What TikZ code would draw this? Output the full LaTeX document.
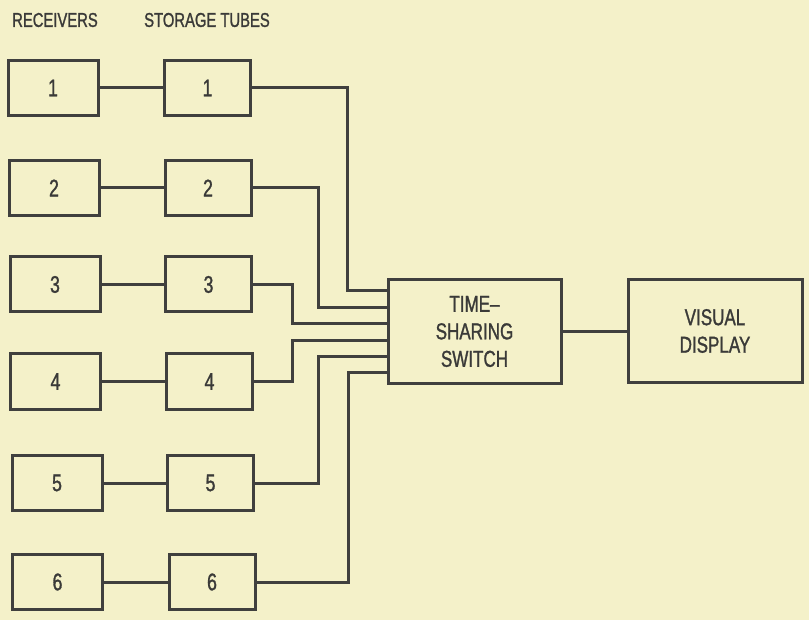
\documentclass[tikz,border=0pt]{standalone}
\usepackage{fontspec}
\setmainfont{Liberation Sans}[FakeStretch=0.74,FakeBold=1.2]
\definecolor{paper}{RGB}{244,241,201}
\definecolor{ink}{RGB}{64,64,62}
\definecolor{txt}{RGB}{58,58,56}
\begin{document}
\begin{tikzpicture}[x=1pt,y=-1pt,
  box/.style={draw=ink,line width=3pt,fill=none,inner sep=0pt,text=txt,font=\fontsize{24}{27}\selectfont},
  rbox/.style={box,minimum width=90pt,minimum height=55pt},
  sbox/.style={box,minimum width=86pt,minimum height=55pt},
  bigbox/.style={box,minimum width=173pt,minimum height=104pt,align=center,font=\fontsize{23}{27.5}\selectfont},
  wire/.style={draw=ink,line width=3pt},
  head/.style={text=txt,font=\fontsize{20}{22}\selectfont,inner sep=0pt}]
\fill[paper] (0,0) rectangle (809,620);
\useasboundingbox (0,0) rectangle (809,620);
\node[head] (hr) at (55,20) {RECEIVERS};
\node[head] (hs) at (207,20) {STORAGE TUBES};
\node[rbox] (r1) at (53,88) {1};
\node[rbox] (r2) at (54,188) {2};
\node[rbox] (r3) at (55,284.5) {3};
\node[rbox] (r4) at (55.5,381.5) {4};
\node[rbox] (r5) at (57,483) {5};
\node[rbox] (r6) at (57.5,582) {6};
\node[sbox] (s1) at (207.5,88) {1};
\node[sbox] (s2) at (208,188) {2};
\node[sbox] (s3) at (208.5,284.5) {3};
\node[sbox] (s4) at (209.5,381.5) {4};
\node[sbox] (s5) at (210.5,483) {5};
\node[sbox] (s6) at (212,582) {6};
\node[bigbox] (sw) at (474.5,331.5) {TIME--\\SHARING\\SWITCH};
\node[bigbox,minimum width=174pt,minimum height=103pt] (vd) at (715,331) {VISUAL\\DISPLAY};
\foreach \i in {1,...,6}{\draw[wire] (r\i.east) -- (s\i.west);}
\coordinate (in1) at (sw.west |- 0,291);
\coordinate (in2) at (sw.west |- 0,308);
\coordinate (in3) at (sw.west |- 0,324);
\coordinate (in4) at (sw.west |- 0,341);
\coordinate (in5) at (sw.west |- 0,357);
\coordinate (in6) at (sw.west |- 0,373);
\draw[wire] (s1.east) -| (347,291) -- (in1);
\draw[wire] (s2.east) -| (318,308) -- (in2);
\draw[wire] (s3.east) -| (292,324) -- (in3);
\draw[wire] (s4.east) -| (292,341) -- (in4);
\draw[wire] (s5.east) -| (318,357) -- (in5);
\draw[wire] (s6.east) -| (348,373) -- (in6);
\draw[wire] (sw.east |- 0,332) -- (vd.west |- 0,332);
\end{tikzpicture}
\end{document}
